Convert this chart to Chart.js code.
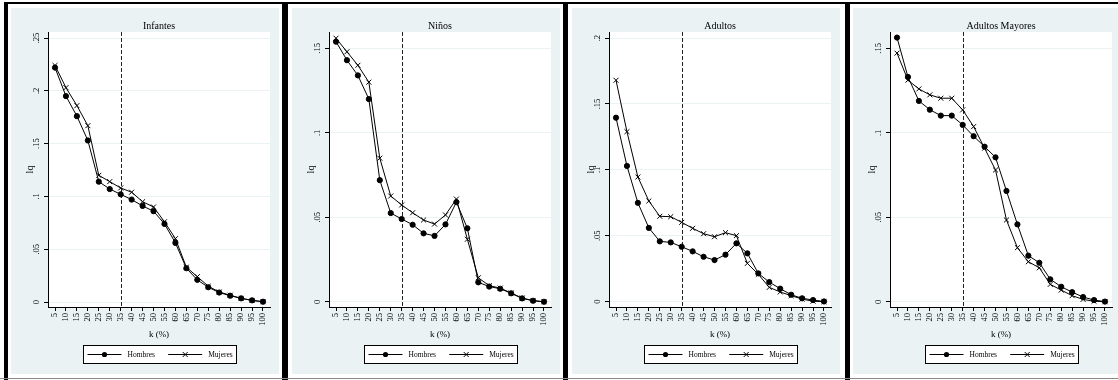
<!DOCTYPE html>
<html>
<head>
<meta charset="utf-8">
<script src="https://cdn.jsdelivr.net/npm/chart.js@4.4.1/dist/chart.umd.min.js"></script>
<style>
  html, body { margin: 0; padding: 0; background: #fff; width: 1118px; height: 380px; overflow: hidden; position: relative; }
  .rule { position: absolute; background: #000; }
  canvas { position: absolute; }
</style>
</head>
<body>
<div class="rule" style="left:4px;top:2px;width:1114px;height:2px"></div>
<div class="rule" style="left:4px;top:2px;width:4px;height:378px"></div>
<div class="rule" style="left:282px;top:2px;width:6px;height:378px"></div>
<div class="rule" style="left:563px;top:2px;width:5px;height:378px"></div>
<div class="rule" style="left:845px;top:2px;width:5px;height:378px"></div>
<div class="rule" style="left:0;top:378px;width:1118px;height:1px;background:#8a8a8a"></div>

<canvas id="c1" width="268" height="366" style="left:11px;top:8px"></canvas>
<canvas id="c2" width="268" height="366" style="left:291.5px;top:8px"></canvas>
<canvas id="c3" width="268" height="366" style="left:571.5px;top:8px"></canvas>
<canvas id="c4" width="268" height="366" style="left:853px;top:8px"></canvas>

<script>
// k (%) categories shared by every panel
const k = [5, 10, 15, 20, 25, 30, 35, 40, 45, 50, 55, 60, 65, 70, 75, 80, 85, 90, 95, 100];

// lq by sex for each age group
const infantesHombres = [0.222, 0.195, 0.176, 0.153, 0.114, 0.107, 0.102, 0.097, 0.091, 0.086, 0.074, 0.056, 0.032, 0.021, 0.014, 0.009, 0.006, 0.0035, 0.0016, 0.0003];
const infantesMujeres = [0.224, 0.203, 0.186, 0.167, 0.120, 0.114, 0.108, 0.104, 0.095, 0.090, 0.076, 0.060, 0.033, 0.024, 0.015, 0.0095, 0.0065, 0.0035, 0.0015, 0.0003];

const ninosHombres = [0.154, 0.143, 0.134, 0.120, 0.072, 0.0525, 0.049, 0.0456, 0.0405, 0.039, 0.0458, 0.059, 0.0435, 0.0115, 0.009, 0.0077, 0.005, 0.002, 0.0006, 0];
const ninosMujeres = [0.156, 0.148, 0.140, 0.130, 0.085, 0.0626, 0.0573, 0.0527, 0.0484, 0.046, 0.0514, 0.0608, 0.037, 0.0142, 0.0095, 0.0081, 0.0052, 0.0022, 0.0007, 0];

const adultosHombres = [0.1396, 0.103, 0.075, 0.056, 0.0458, 0.045, 0.0417, 0.0382, 0.0341, 0.0316, 0.0357, 0.0443, 0.0367, 0.0215, 0.0149, 0.0099, 0.0053, 0.0026, 0.0013, 0.0002];
const adultosMujeres = [0.168, 0.129, 0.0946, 0.0764, 0.0648, 0.0645, 0.0602, 0.0557, 0.0516, 0.0493, 0.0524, 0.0501, 0.0291, 0.0208, 0.0109, 0.0074, 0.0046, 0.002, 0.0004, 0];

const mayoresHombres = [0.1564, 0.1331, 0.1189, 0.1137, 0.1102, 0.1102, 0.1047, 0.098, 0.0918, 0.0855, 0.0656, 0.0458, 0.0273, 0.0231, 0.0133, 0.0089, 0.0057, 0.0028, 0.001, 0.0001];
const mayoresMujeres = [0.1472, 0.1312, 0.126, 0.1225, 0.1205, 0.1205, 0.1136, 0.1037, 0.0909, 0.078, 0.0484, 0.032, 0.0237, 0.0201, 0.0103, 0.0069, 0.0036, 0.0014, 0.0003, 0];

// y-axis ticks and their labels
const yTicks25 = [0, 0.05, 0.1, 0.15, 0.2, 0.25];
const yLabels25 = ['0', '.05', '.1', '.15', '.2', '.25'];
const yTicks20 = [0, 0.05, 0.1, 0.15, 0.2];
const yLabels20 = ['0', '.05', '.1', '.15', '.2'];
const yTicks15 = [0, 0.05, 0.1, 0.15];
const yLabels15 = ['0', '.05', '.1', '.15'];

// reference line on the k axis
const kReference = 35;

const seriesNames = ['Hombres', 'Mujeres'];
const titles = ['Infantes', 'Niños', 'Adultos', 'Adultos Mayores'];

const SERIF = "'Liberation Serif', 'Times New Roman', serif";
const BG = '#eaf2f3';

const panels = [
  { id: 'c1', title: titles[0], h: infantesHombres, m: infantesMujeres, ticks: yTicks25, labels: yLabels25, min: -0.0047, max: 0.2557 },
  { id: 'c2', title: titles[1], h: ninosHombres,    m: ninosMujeres,    ticks: yTicks15, labels: yLabels15, min: -0.0031, max: 0.1597 },
  { id: 'c3', title: titles[2], h: adultosHombres,  m: adultosMujeres,  ticks: yTicks20, labels: yLabels20, min: -0.0040, max: 0.2046 },
  { id: 'c4', title: titles[3], h: mayoresHombres,  m: mayoresMujeres,  ticks: yTicks15, labels: yLabels15, min: -0.0031, max: 0.1597 }
];

// graph region background + white plot region
const plotBackground = {
  id: 'plotBackground',
  beforeDraw(chart) {
    const { ctx, chartArea: a, width, height } = chart;
    ctx.save();
    ctx.fillStyle = BG;
    ctx.fillRect(0, 0, width, height);
    ctx.fillStyle = '#fff';
    ctx.fillRect(a.left, a.top, a.right - a.left, a.bottom - a.top);
    ctx.restore();
  }
};

// dashed vertical line at k = 35
const referenceLine = {
  id: 'referenceLine',
  beforeDatasetsDraw(chart) {
    const { ctx, chartArea: a, scales } = chart;
    const x = Math.round(scales.x.getPixelForValue(kReference)) + 0.5;
    ctx.save();
    ctx.strokeStyle = '#222';
    ctx.lineWidth = 1;
    ctx.setLineDash([4, 2]);
    ctx.beginPath();
    ctx.moveTo(x, a.top);
    ctx.lineTo(x, a.bottom);
    ctx.stroke();
    ctx.restore();
  }
};

// boxed legend: line sample with marker, then the series name
const boxedLegend = {
  id: 'boxedLegend',
  afterDraw(chart) {
    const { ctx, chartArea: a } = chart;
    const cx = (a.left + a.right) / 2;
    const w = 153, h = 18;
    const left = Math.round(cx - w / 2) + 0.5;
    const top = 337.5;
    const midY = top + 9;
    ctx.save();
    ctx.fillStyle = '#fff';
    ctx.fillRect(left, top, w, h);
    ctx.strokeStyle = '#000';
    ctx.lineWidth = 1;
    ctx.strokeRect(left, top, w, h);
    const items = [
      { x0: 4, x1: 38, text: chart.data.datasets[0].label, style: 'circle' },
      { x0: 84.7, x1: 118.7, text: chart.data.datasets[1].label, style: 'crossRot' }
    ];
    ctx.font = '7.5px ' + SERIF;
    ctx.textBaseline = 'middle';
    ctx.textAlign = 'left';
    items.forEach((it) => {
      ctx.strokeStyle = '#000';
      ctx.lineWidth = 1;
      ctx.beginPath();
      ctx.moveTo(left + it.x0, midY);
      ctx.lineTo(left + it.x1, midY);
      ctx.stroke();
      const mx = left + (it.x0 + it.x1) / 2;
      if (it.style === 'circle') {
        ctx.fillStyle = '#000';
        ctx.beginPath();
        ctx.arc(mx, midY, 2.6, 0, Math.PI * 2);
        ctx.fill();
      } else {
        const r = 2.5;
        ctx.beginPath();
        ctx.moveTo(mx - r, midY - r); ctx.lineTo(mx + r, midY + r);
        ctx.moveTo(mx - r, midY + r); ctx.lineTo(mx + r, midY - r);
        ctx.stroke();
      }
      ctx.fillStyle = '#000';
      ctx.fillText(it.text, left + it.x1 + 6, midY + 0.5);
    });
    ctx.restore();
  }
};

function buildChart(p) {
  const toPoints = (vals) => k.map((x, i) => ({ x: x, y: vals[i] }));
  return new Chart(document.getElementById(p.id), {
    type: 'line',
    data: {
      datasets: [
        {
          label: seriesNames[0], data: toPoints(p.h),
          borderColor: '#000', backgroundColor: '#000', borderWidth: 1, tension: 0,
          pointStyle: 'circle', pointRadius: 2.6, pointBorderWidth: 1,
          pointBackgroundColor: '#000', pointBorderColor: '#000'
        },
        {
          label: seriesNames[1], data: toPoints(p.m),
          borderColor: '#000', backgroundColor: '#000', borderWidth: 1, tension: 0,
          pointStyle: 'crossRot', pointRadius: 3.5, pointBorderWidth: 1,
          pointBorderColor: '#000'
        }
      ]
    },
    options: {
      responsive: false,
      animation: false,
      devicePixelRatio: 1,
      events: [],
      layout: { padding: { top: 0, left: 0, right: 9, bottom: 29 } },
      plugins: {
        legend: { display: false },
        tooltip: { enabled: false },
        title: {
          display: true, text: p.title, fullSize: false, color: '#000',
          font: { family: SERIF, size: 10, weight: 'normal' },
          padding: { top: 12, bottom: 0 }
        }
      },
      scales: {
        x: {
          type: 'linear', min: 1.8, max: 103.2,
          afterFit(s) { s.height = 38; },
          afterBuildTicks(s) { s.ticks = k.map((v) => ({ value: v })); },
          ticks: {
            autoSkip: false, minRotation: 90, maxRotation: 90, padding: 2,
            color: '#000', font: { family: SERIF, size: 8.5 },
            callback: (v) => String(v)
          },
          grid: { drawOnChartArea: false, drawTicks: true, tickLength: 4, tickColor: '#000', tickWidth: 1 },
          border: { display: true, color: '#000', width: 1 },
          title: {
            display: true, text: 'k (%)', color: '#000',
            font: { family: SERIF, size: 9 },
            padding: { top: 0, bottom: 4.6 }
          }
        },
        y: {
          type: 'linear', min: p.min, max: p.max,
          afterFit(s) { s.width = 37; },
          afterBuildTicks(s) { s.ticks = p.ticks.map((v) => ({ value: v })); },
          ticks: {
            minRotation: 90, maxRotation: 90, crossAlign: 'center', padding: 2,
            color: '#000', font: { family: SERIF, size: 8.5 },
            callback: (v, i) => p.labels[i]
          },
          grid: { color: BG, lineWidth: 1, drawTicks: true, tickLength: 4, tickColor: '#000', tickWidth: 1 },
          border: { display: true, color: '#000', width: 1 },
          title: {
            display: true, text: 'lq', color: '#000',
            font: { family: SERIF, size: 10 },
            padding: { top: 13, bottom: 0 }
          }
        }
      }
    },
    plugins: [plotBackground, referenceLine, boxedLegend]
  });
}

panels.forEach(buildChart);
</script>
</body>
</html>
